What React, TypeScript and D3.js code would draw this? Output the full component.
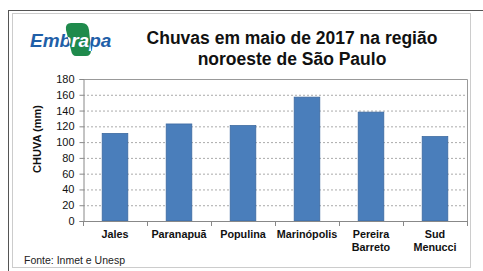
import React, { useEffect, useRef } from 'react';
import * as d3 from 'd3';

// dados
const cidades = ['Jales', 'Paranapuã', 'Populina', 'Marinópolis', 'Pereira Barreto', 'Sud Menucci'];
const rotulos = [['Jales'], ['Paranapuã'], ['Populina'], ['Marinópolis'], ['Pereira', 'Barreto'], ['Sud', 'Menucci']];
const chuva = [111, 123, 121, 157, 138, 107];
const yTicks = [0, 20, 40, 60, 80, 100, 120, 140, 160, 180];
const titulo = ['Chuvas em maio de 2017 na região', 'noroeste de São Paulo'];

const W = 483, H = 271;
const font = '"Liberation Sans", Arial, sans-serif';

function App() {
  const svgRef = useRef<SVGSVGElement>(null);

  useEffect(() => {
    const svg = d3.select(svgRef.current);
    svg.selectAll('*').remove();

    const left = 83, right = 467, top = 79, bottom = 221;

    const x = d3.scaleBand<string>()
      .domain(cidades)
      .range([left, right])
      .paddingInner(0.6)
      .paddingOuter(0.3);
    const y = d3.scaleLinear().domain([0, 180]).range([bottom, top]);

    // moldura
    svg.append('rect').attr('x', 0).attr('y', 0).attr('width', W).attr('height', H).attr('fill', '#fff');
    svg.append('rect')
      .attr('x', 8.5).attr('y', 10.5).attr('width', 490).attr('height', 280)
      .attr('fill', 'none').attr('stroke', '#555').attr('stroke-width', 1);
    svg.append('rect')
      .attr('x', 12.5).attr('y', 13.5).attr('width', 458).attr('height', 254)
      .attr('fill', 'none').attr('stroke', '#ccc').attr('stroke-width', 1);

    // logo Embrapa
    const logo = svg.append('g');
    const folha = 'M71,23 L82,23 Q88,23 89,30 L91,50 Q91,56 86,56 L76,56 Q72,56 71,50 L66,30 Q65,23 71,23 Z';
    logo.append('path').attr('d', folha).attr('fill', '#1f8a4c');
    const clip = svg.append('defs').append('clipPath').attr('id', 'folhaClip');
    clip.append('path').attr('d', folha);
    const logoTxt = (fill: string) => logo.append('text')
      .attr('x', 30).attr('y', 47)
      .attr('font-family', font).attr('font-size', 19).attr('font-weight', 'bold')
      .attr('font-style', 'italic').attr('fill', fill)
      .text('Embrapa');
    logoTxt('#1f5fa8');
    logoTxt('#fff').attr('clip-path', 'url(#folhaClip)');

    // titulo
    svg.append('g').selectAll('text').data(titulo).join('text')
      .attr('x', 292).attr('y', (_, i) => 44 + i * 21)
      .attr('text-anchor', 'middle')
      .attr('font-family', font).attr('font-size', 17.5).attr('font-weight', 'bold').attr('fill', '#111')
      .text(d => d);

    // grade
    svg.append('g').selectAll('line').data(yTicks.filter(t => t > 0 && t < 180)).join('line')
      .attr('x1', left).attr('x2', right)
      .attr('y1', d => y(d) + 0.5).attr('y2', d => y(d) + 0.5)
      .attr('stroke', '#aaa').attr('stroke-dasharray', '2,2');

    // borda da area
    svg.append('path')
      .attr('d', `M${left},${top + 0.5}H${right + 0.5}V${bottom}`)
      .attr('fill', 'none').attr('stroke', '#999');

    // barras
    svg.append('g').selectAll('rect').data(chuva).join('rect')
      .attr('x', (_, i) => x(cidades[i])!)
      .attr('y', d => y(d))
      .attr('width', x.bandwidth())
      .attr('height', d => bottom - y(d))
      .attr('fill', '#4a7ebb').attr('stroke', '#3d6aa0').attr('stroke-width', 0.8);

    // eixo y
    const yAxis = svg.append('g').attr('transform', `translate(${left + 0.5},0)`)
      .call(d3.axisLeft(y).tickValues(yTicks).tickSize(4).tickPadding(5));
    yAxis.select('.domain').attr('stroke', '#888');
    yAxis.selectAll('line').attr('stroke', '#888');
    yAxis.selectAll('text').attr('font-family', font).attr('font-size', 11).attr('fill', '#111');

    // eixo x
    const step = x.step();
    svg.append('line').attr('x1', left).attr('x2', right + 0.5)
      .attr('y1', bottom + 0.5).attr('y2', bottom + 0.5).attr('stroke', '#888');
    svg.append('g').selectAll('line').data(d3.range(cidades.length + 1)).join('line')
      .attr('x1', i => left + i * step + 0.5).attr('x2', i => left + i * step + 0.5)
      .attr('y1', bottom).attr('y2', bottom + 5).attr('stroke', '#888');

    const lab = svg.append('g').selectAll('text').data(rotulos).join('text')
      .attr('text-anchor', 'middle')
      .attr('font-family', font).attr('font-size', 10.8).attr('font-weight', 'bold').attr('fill', '#111');
    lab.each(function (d, i) {
      const cx = x(cidades[i])! + x.bandwidth() / 2;
      d3.select(this).selectAll('tspan').data(d).join('tspan')
        .attr('x', cx).attr('y', (_, j) => 238 + j * 12.5)
        .text(t => t);
    });

    // titulo y
    svg.append('text')
      .attr('transform', 'translate(41,139) rotate(-90)')
      .attr('text-anchor', 'middle')
      .attr('font-family', font).attr('font-size', 11).attr('font-weight', 'bold').attr('fill', '#111')
      .text('CHUVA (mm)');

    // fonte
    svg.append('text').attr('x', 24).attr('y', 264)
      .attr('font-family', font).attr('font-size', 10.5).attr('fill', '#222')
      .text('Fonte: Inmet e Unesp');
  }, []);

  return (
    <svg ref={svgRef} width={W} height={H} style={{ position: 'absolute', left: 0, top: 0 }} />
  );
}

export default App;
